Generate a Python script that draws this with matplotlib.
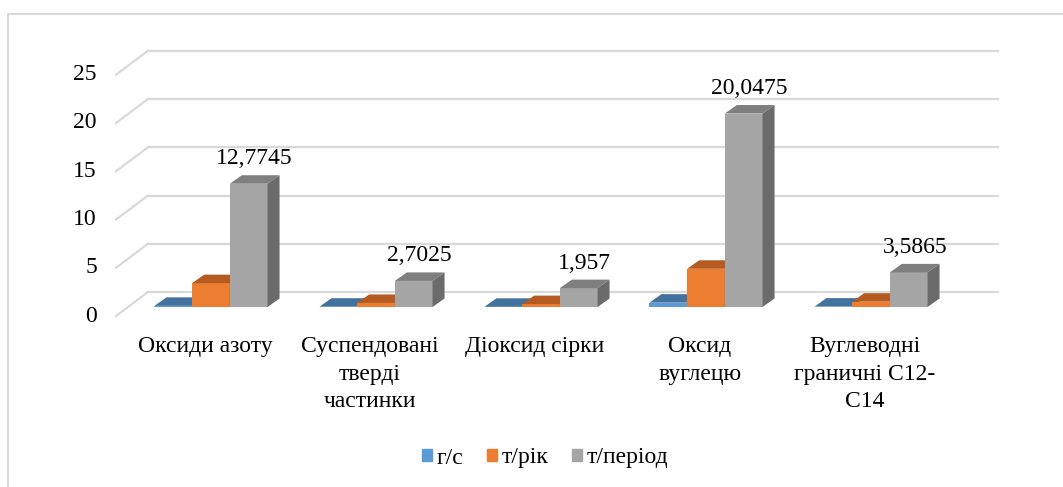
import matplotlib
matplotlib.use("Agg")
import matplotlib.pyplot as plt
from matplotlib.patches import Polygon, Patch
from matplotlib.lines import Line2D
import numpy as np

plt.rcParams['font.family'] = ['Liberation Serif', 'DejaVu Serif']

categories = ["Оксиди азоту", "Суспендовані\nтверді\nчастинки", "Діоксид сірки",
              "Оксид\nвуглецю", "Вуглеводні\nграничні С12-\nС14"]
series_names = ["г/с", "т/рік", "т/період"]
g_s = [0.12, 0.03, 0.02, 0.45, 0.04]
t_rik = [2.47, 0.42, 0.3, 3.96, 0.55]
t_period = [12.7745, 2.7025, 1.957, 20.0475, 3.5865]
value_labels = ["12,7745", "2,7025", "1,957", "20,0475", "3,5865"]
yticks = [0, 5, 10, 15, 20, 25]

front_cols = ["#5B9BD5", "#ED7D31", "#A5A5A5"]
top_cols = ["#44729f", "#b55b21", "#7f7f7f"]
side_cols = ["#3a6590", "#a04f1b", "#6b6b6b"]

W, H = 1063, 487
fig = plt.figure(figsize=(W / 100, H / 100), dpi=100)

# axes = front plane of the bars (pixel geometry)
ax_l, ax_r = 128, 978
y0_px = 307          # value 0, from top
px_y = 9.65          # pixels per unit
px_x = 165           # pixels per category
ymax = 26
ax = fig.add_axes([ax_l / W, (H - y0_px) / H, (ax_r - ax_l) / W, ymax * px_y / H])
c0 = (211 - ax_l) / px_x
ax.set_xlim(-c0, (ax_r - ax_l) / px_x - c0)
ax.set_ylim(0, ymax)
ax.axis("off")

def d(px, py):
    # pixel offset -> data offset (py upwards)
    return px / px_x, py / px_y

xlo, xhi = ax.get_xlim()
bdx, bdy = d(20, 15)     # back wall
fdx, fdy = d(-12, -9)    # front floor edge
for v in yticks:
    ax.plot([xlo + bdx, xhi + bdx], [v + bdy, v + bdy], color="#d9d9d9", lw=1.6, clip_on=False, zorder=1)
    ax.plot([xlo + fdx, xlo + bdx], [v + fdy, v + bdy], color="#d9d9d9", lw=1.6, clip_on=False, zorder=1)
    ax.text(xlo + fdx - 19 / px_x, v + fdy, str(v), ha="right", va="center", fontsize=17)

bw = 37.7 / px_x
ddx, ddy = d(12, 8.5)
x = np.arange(len(categories))
for i, vals in enumerate([g_s, t_rik, t_period]):
    xs = x + (i - 1) * bw
    ax.bar(xs, vals, width=bw, color=front_cols[i], zorder=3 + i)
    for xc, h in zip(xs, vals):
        xa, xb = xc - bw / 2, xc + bw / 2
        ax.add_patch(Polygon([(xa, h), (xb, h), (xb + ddx, h + ddy), (xa + ddx, h + ddy)],
                             closed=True, color=top_cols[i], lw=0, zorder=3 + i))
        ax.add_patch(Polygon([(xb, 0), (xb + ddx, ddy), (xb + ddx, h + ddy), (xb, h)],
                             closed=True, color=side_cols[i], lw=0, zorder=3 + i))

for xc, h, lab in zip(x + bw, t_period, value_labels):
    ax.text(xc + ddx / 2, h + ddy + 6 / px_y, lab, ha="center", va="bottom", fontsize=17, clip_on=False)

for xc, lab in zip(x, categories):
    ax.text(xc - 6 / px_x, -29 / px_y, lab, ha="center", va="top", fontsize=17, linespacing=1.42, clip_on=False)

handles = [Patch(color=c) for c in front_cols]
fig.legend(handles, series_names, loc="center", bbox_to_anchor=(545 / W, 1 - 458 / H), ncol=3,
           frameon=False, fontsize=17, handlelength=0.42, handleheight=0.42, handletextpad=0.2,
           columnspacing=1.0)

fig.add_artist(Line2D([7.5 / W, 7.5 / W, 1.0], [0, 1 - 14 / H, 1 - 14 / H], color="#d9d9d9", lw=1.5))

fig.savefig("out.png", dpi=100)
